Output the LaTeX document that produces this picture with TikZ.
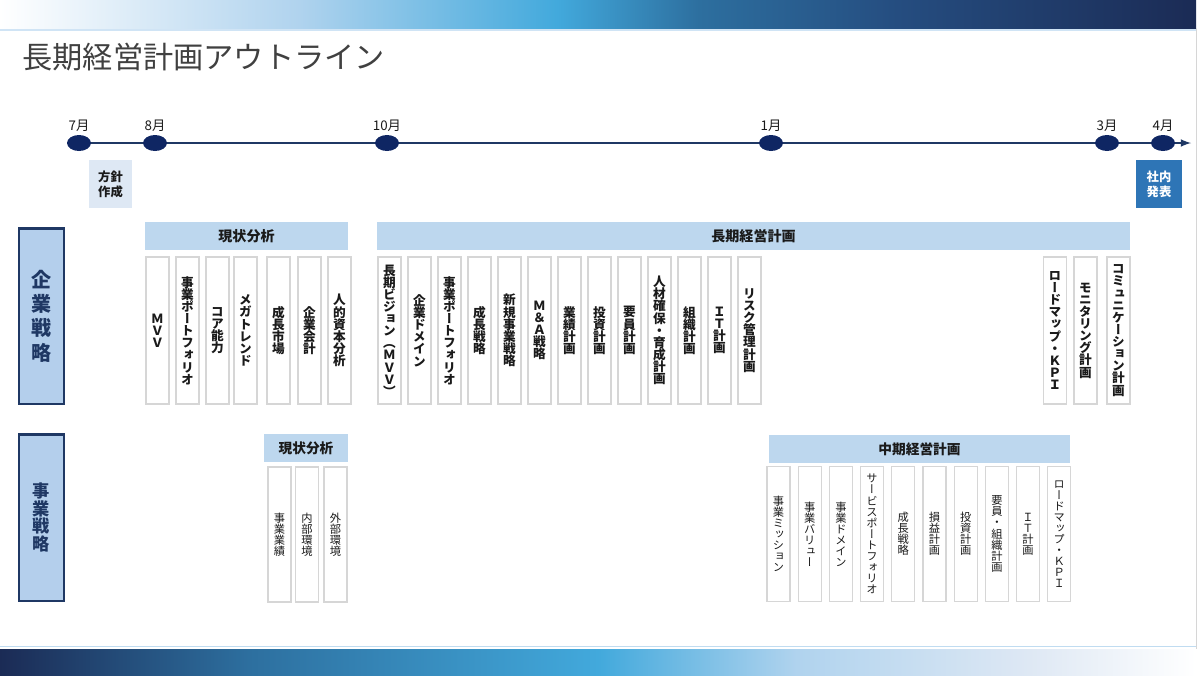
\documentclass[tikz,border=0pt]{standalone}
\usepackage{fontspec}
\setmainfont{Noto Sans CJK JP}
\newfontfamily\tatefont[RawFeature=+vert]{Noto Sans CJK JP}
\usetikzlibrary{shapes.geometric}

\definecolor{marine}{HTML}{1F3864}
\definecolor{marinefonce}{HTML}{0F2663}
\definecolor{bleuentete}{HTML}{BDD7EE}
\definecolor{bleusection}{HTML}{B4CFEC}
\definecolor{bleupale}{HTML}{DEE8F4}
\definecolor{bleuannonce}{HTML}{2E75B6}
\definecolor{grisbord}{HTML}{D6D6D6}
\definecolor{gristitre}{HTML}{404040}
\definecolor{noirtexte}{HTML}{1A1A1A}
\definecolor{bleuvif}{HTML}{42A9DC}
\definecolor{bleuclair}{HTML}{B0D3EE}
\definecolor{bleumoyen}{HTML}{2D6F9F}
\definecolor{bleunuit}{HTML}{254D80}
\definecolor{bleusombre}{HTML}{1B2B55}

% dégradés des bandeaux
\pgfdeclarehorizontalshading{bandeauhaut}{100bp}{color(0bp)=(white); color(25bp)=(white); color(37.5bp)=(bleuclair); color(48.3bp)=(bleuvif); color(54.2bp)=(bleumoyen); color(62.5bp)=(bleunuit); color(75bp)=(bleusombre); color(100bp)=(bleusombre)}
\pgfdeclarehorizontalshading{bandeaubas}{100bp}{color(0bp)=(bleusombre); color(25bp)=(bleusombre); color(35.4bp)=(bleumoyen); color(50bp)=(bleuvif); color(58.3bp)=(bleuclair); color(68bp)=(bleupale); color(75bp)=(white); color(100bp)=(white)}

% texte vertical
\makeatletter
\newcommand\tate[1]{\edef\tate@arg{#1}\def\tate@sep{}\expandafter\tate@loop\tate@arg\@nil}
\def\tate@loop#1{\ifx#1\@nil\else\tate@sep#1\def\tate@sep{\\}\expandafter\tate@loop\fi}
\makeatother
\lineskiplimit=-5pt

\begin{document}
\begin{tikzpicture}[x=0.02cm,y=-0.02cm]

% définition des styles
\tikzstyle{colonne}=[draw=grisbord,line width=0.6pt,fill=white,minimum width=0.46cm,minimum height=2.94cm,inner sep=0pt,align=center,text=noirtexte,font=\tatefont\bfseries\fontsize{7.2}{6.9}\selectfont]
\tikzstyle{colonnefine}=[colonne,minimum height=2.7cm,font=\tatefont\fontsize{6.4}{6.3}\selectfont]
\tikzstyle{entete}=[fill=bleuentete,minimum height=0.56cm,inner sep=0pt,text=noirtexte,font=\bfseries\fontsize{8}{9}\selectfont]
\tikzstyle{section}=[draw=marine,line width=1.4pt,fill=bleusection,minimum width=0.89cm,inner sep=0pt,align=center,text=marine]
\tikzstyle{cercle}=[ellipse,fill=marinefonce,minimum width=0.48cm,minimum height=0.32cm,inner sep=0pt]
\tikzstyle{mois}=[inner sep=0pt,text=noirtexte,font=\fontsize{7.6}{9}\selectfont]
\tikzstyle{etape}=[minimum width=0.87cm,minimum height=0.96cm,inner sep=0pt,align=center,font=\bfseries\fontsize{7}{8.5}\selectfont]
\tikzstyle{fleche}=[->,>=latex,line width=1pt,draw=marine]

\useasboundingbox (0,0) rectangle (1200,677);

% les bandeaux
\shade[shading=bandeauhaut] (0,0) rectangle (1196,28);
\draw[bleuclair!60,line width=0.6pt] (0,30) -- (1196,30);
\shade[shading=bandeaubas] (0,649) rectangle (1196,675);
\draw[bleuclair!80,line width=0.6pt] (0,646.5) -- (1196,646.5);
\draw[grisbord,line width=0.5pt] (1196,28) -- (1196,649);

% le titre
\node[anchor=west,inner sep=0pt,text=gristitre,font=\fontsize{17.2}{20}\selectfont] (titre) at (22,57) {長期経営計画アウトライン};

% la frise
\coordinate (debut) at (79,143);
\coordinate (fin) at (1191,143);
\draw[fleche] (debut) -- (fin);
\foreach \x/\m/\n in {79/7月/m7,155/8月/m8,387/10月/m10,771/1月/m1,1107/3月/m3,1163/4月/m4}{
  \node[cercle] (\n) at (\x,143) {};
  \node[mois] (l\n) at (\x,126) {\m};
}

\node[etape,fill=bleupale,text=noirtexte] (policy) at (110.5,184) {方針\\作成};
\node[etape,fill=bleuannonce,text=white,minimum width=0.92cm] (annonce) at (1159,184) {社内\\発表};

% les sections
\node[section,minimum height=3.51cm,font=\bfseries\fontsize{11.4}{13.8}\selectfont] (kigyo) at (41.5,316) {企\\業\\戦\\略};
\node[section,minimum height=3.33cm,font=\bfseries\fontsize{9.8}{10.1}\selectfont] (jigyo) at (41.5,517.5) {事\\業\\戦\\略};

% entêtes
\node[entete,minimum width=4.06cm] (ga) at (246.5,236) {現状分析};
\node[entete,minimum width=15.06cm] (cho) at (753.5,236) {長期経営計画};
\node[entete,minimum width=1.68cm,font=\bfseries\fontsize{7.8}{9}\selectfont] (gb) at (306,448) {現状分析};
\node[entete,minimum width=6.02cm,font=\bfseries\fontsize{7.8}{9}\selectfont] (chu) at (919.5,449) {中期経営計画};

% colonnes du企業戦略
\foreach \x/\lib [count=\i] in {157.5/ＭＶＶ,187.5/事業ポートフォリオ,217.5/コア能力,245.5/メガトレンド,278.5/成長市場,309.5/企業会計,339.5/人的資本分析}
  \node[colonne] (ga\i) at (\x,330.5) {\tate{\lib}};

\foreach \lib [count=\i from 0] in {長期ビジョン（ＭＶＶ）,企業ドメイン,事業ポートフォリオ,成長戦略,新規事業戦略,Ｍ＆Ａ戦略,業績計画,投資計画,要員計画,人材確保・育成計画,組織計画,ＩＴ計画,リスク管理計画}
  \node[colonne] (cho\i) at (389.5+30*\i,330.5) {\tate{\lib}};

\node[colonne] (kpi) at (1055,330.5) {\tate{ロードマップ・ＫＰＩ}};
\node[colonne] (moni) at (1085.5,330.5) {\tate{モニタリング計画}};
\node[colonne] (comm) at (1118.5,330.5) {\tate{コミュニケーション計画}};

% colonnes du事業戦略
\foreach \x/\lib [count=\i] in {279.5/事業業績,307/内部環境,335.5/外部環境}
  \node[colonnefine] (gb\i) at (\x,534.5) {\tate{\lib}};

\foreach \lib [count=\i from 0] in {事業ミッション,事業バリュー,事業ドメイン,サービスポートフォリオ,成長戦略,損益計画,投資計画,要員・組織計画,ＩＴ計画,ロードマップ・ＫＰＩ}
  \node[colonnefine] (chu\i) at (778.5+31.2*\i,534) {\tate{\lib}};

\end{tikzpicture}
\end{document}
